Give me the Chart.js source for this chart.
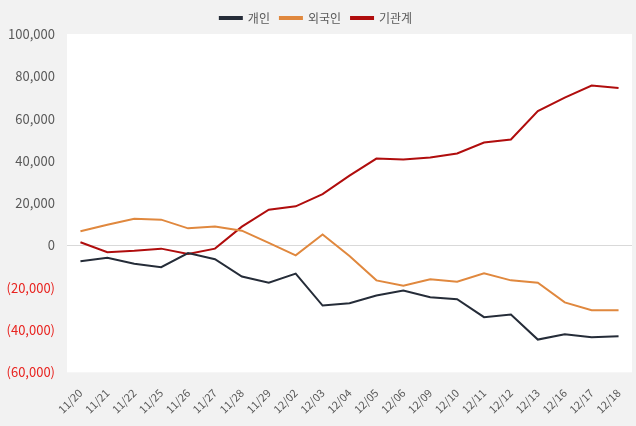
<!DOCTYPE html>
<html>
<head>
<meta charset="utf-8">
<script src="https://cdn.jsdelivr.net/npm/chart.js@4"></script>
<style>
  html, body { margin: 0; padding: 0; background: #f2f2f2; }
  #wrap { width: 636px; height: 426px; }
</style>
</head>
<body>
<div id="wrap"><canvas id="LineChart"></canvas></div>
<script>
const labels = ['11/20', '11/21', '11/22', '11/25', '11/26', '11/27', '11/28', '11/29', '12/02', '12/03', '12/04',
    '12/05', '12/06', '12/09', '12/10', '12/11', '12/12', '12/13', '12/16', '12/17', '12/18'];
const individual = [-7500, -5800, -8600, -10300, -3600, -6500, -14700, -17600, -13300, -28400, -27300,
    -23700, -21300, -24500, -25400, -33900, -32700, -44500, -42000, -43400, -42900];
const foreign = [6700, 9800, 12600, 12200, 8100, 9000, 7000, 1200, -4700, 5200, -5000,
    -16500, -19000, -16000, -17100, -13200, -16500, -17600, -26900, -30600, -30600];
const institution = [1500, -3200, -2500, -1500, -4000, -1500, 8900, 16900, 18500, 24300, 33000,
    41100, 40600, 41600, 43500, 48700, 50100, 63500, 69900, 75600, 74500];
const seriesNames = ['개인', '외국인', '기관계'];
const yMin = -60000;
const yMax = 100000;
const yStep = 20000;

const colors = ['#252c38', '#e0883e', '#b00d0d'];
const font = "'Noto Sans CJK KR', 'Noto Sans', sans-serif";

// white plot area on grey page
const plotBg = {
    id: 'plotBg',
    beforeDraw(chart) {
        const a = chart.chartArea;
        const c = chart.ctx;
        c.save();
        c.fillStyle = '#ffffff';
        c.fillRect(a.left, a.top, a.right - a.left, a.bottom - a.top);
        c.restore();
    }
};

function fmt(v) {
    const s = Math.abs(v).toLocaleString('en-US');
    return v < 0 ? '(' + s + ')' : s;
}

const ctx = document.getElementById('LineChart');
new Chart(ctx, {
    type: 'line',
    data: {
        labels: labels,
        datasets: [individual, foreign, institution].map((d, i) => ({
            label: seriesNames[i],
            data: d,
            borderColor: colors[i],
            backgroundColor: colors[i],
            borderWidth: 2,
            pointRadius: 0,
            tension: 0
        }))
    },
    options: {
        responsive: true,
        maintainAspectRatio: false,
        animation: false,
        layout: { padding: { top: 2, right: 4, bottom: 4, left: 0 } },
        plugins: {
            legend: {
                position: 'top',
                labels: {
                    boxWidth: 22,
                    boxHeight: 2,
                    padding: 10,
                    color: '#595959',
                    font: { family: font, size: 12 }
                }
            },
            tooltip: { enabled: false }
        },
        scales: {
            x: {
                offset: true,
                grid: { display: false },
                border: { display: false },
                ticks: {
                    minRotation: 45,
                    maxRotation: 45,
                    autoSkip: false,
                    padding: 6,
                    color: '#595959',
                    font: { family: font, size: 11 }
                }
            },
            y: {
                min: yMin,
                max: yMax,
                border: { display: false },
                grid: {
                    drawTicks: false,
                    color: (c) => c.tick && c.tick.value === 0 ? '#d9d9d9' : 'rgba(0,0,0,0)'
                },
                ticks: {
                    stepSize: yStep,
                    padding: 12,
                    callback: (v) => fmt(v),
                    color: (c) => c.tick && c.tick.value < 0 ? '#e8231f' : '#595959',
                    font: { family: font, size: 13 }
                },
                afterFit: (scale) => { scale.width = 67; }
            }
        }
    },
    plugins: [plotBg]
});
</script>
</body>
</html>
